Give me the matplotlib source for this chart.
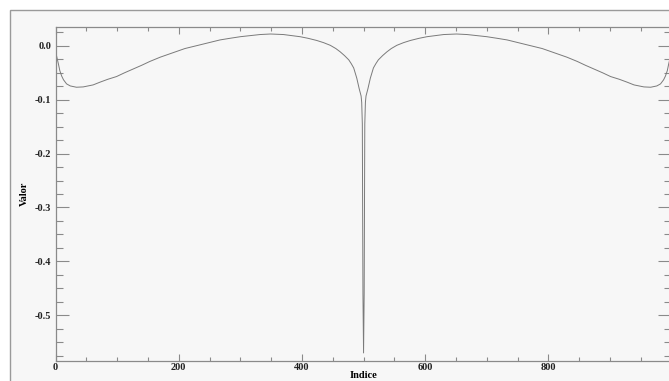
import numpy as np
import matplotlib
matplotlib.use('Agg')
import matplotlib.pyplot as plt
from matplotlib.patches import Rectangle
from matplotlib.ticker import MultipleLocator

# values (index, value)
indices = [0, 2, 5, 7, 10, 13, 18, 24, 34, 45, 61, 72, 85, 99, 112, 126, 140,
           153, 170, 190, 210, 235, 267, 283, 300, 332, 349, 370, 397, 410,
           424, 435, 446, 455, 462, 469, 476, 480, 484, 489, 493, 496, 497,
           498, 499, 500,
           501, 502, 503, 504, 507, 511, 516, 520, 524, 531, 538, 545, 554,
           565, 576, 590, 603, 630, 651, 668, 700, 717, 733, 765, 790, 810,
           830, 847, 860, 874, 888, 901, 915, 928, 939, 955, 966, 976, 982,
           987, 990, 993, 995, 998, 999]
values = [-0.0105, -0.020, -0.035, -0.046, -0.056, -0.063, -0.0706, -0.0744,
          -0.0768, -0.0762, -0.0725, -0.0675, -0.062, -0.057, -0.050, -0.043,
          -0.036, -0.029, -0.021, -0.013, -0.005, 0.002, 0.011, 0.014, 0.017,
          0.021, 0.022, 0.021, 0.017, 0.014, 0.010, 0.006, 0.001, -0.005,
          -0.011, -0.018, -0.026, -0.033, -0.041, -0.060, -0.080, -0.093,
          -0.105, -0.145, -0.46, -0.57,
          -0.46, -0.145, -0.105, -0.093, -0.080, -0.060, -0.041, -0.033,
          -0.026, -0.018, -0.011, -0.005, 0.001, 0.006, 0.010, 0.014, 0.017,
          0.021, 0.022, 0.021, 0.017, 0.014, 0.011, 0.002, -0.005, -0.013,
          -0.021, -0.029, -0.036, -0.043, -0.050, -0.057, -0.062, -0.0675,
          -0.0725, -0.0762, -0.0768, -0.0744, -0.0706, -0.063, -0.056,
          -0.046, -0.035, -0.020, -0.015]

x_ticks = [0, 200, 400, 600, 800]
y_ticks = [0.0, -0.1, -0.2, -0.3, -0.4, -0.5]

W, H = 669, 381
fig = plt.figure(figsize=(W / 100, H / 100), dpi=100)
fig.patch.set_facecolor('white')

# outer frame, runs off the right and bottom edges
frame = Rectangle((10 / W, -0.2), 1.3, 1 - 10 / H + 0.2,
                  transform=fig.transFigure, facecolor='#f7f7f7',
                  edgecolor='#9a9a9a', linewidth=1.0, zorder=-10)
fig.patches.append(frame)

left, right, top, bottom = 55.5, 671, 27, 360.5
ax = fig.add_axes([left / W, 1 - bottom / H, (right - left) / W, (bottom - top) / H])
ax.set_facecolor('#f7f7f7')
ax.set_zorder(5)

ax.plot(indices, values, color='#7a7a7a', linewidth=0.7)

ax.set_xlim(0, 999)
ax.set_ylim(-0.584, 0.035)

ax.set_xticks(x_ticks)
ax.set_yticks(y_ticks)
ax.xaxis.set_minor_locator(MultipleLocator(50))
ax.yaxis.set_minor_locator(MultipleLocator(0.025))

font = {'family': 'Liberation Serif', 'size': 7.5, 'weight': 'bold'}
ax.set_xticklabels([str(v) for v in x_ticks], fontdict=font)
ax.set_yticklabels(['%.1f' % v for v in y_ticks], fontdict=font)

ax.tick_params(axis='both', which='both', direction='in', top=True, right=True,
               color='#8a8a8a', width=0.8, labelcolor='#222222')
ax.tick_params(axis='y', which='major', length=9.5, pad=3)
ax.tick_params(axis='y', which='minor', length=5)
ax.tick_params(axis='x', which='major', length=4.7, pad=2)
ax.tick_params(axis='x', which='minor', length=2.6)

for s in ax.spines.values():
    s.set_color('#8a8a8a')
    s.set_linewidth(0.9)

ax.set_xlabel('Indice', fontdict=font, labelpad=-1)
ax.set_ylabel('Valor', fontdict=font, labelpad=4)

fig.savefig('out.png', dpi=100)
